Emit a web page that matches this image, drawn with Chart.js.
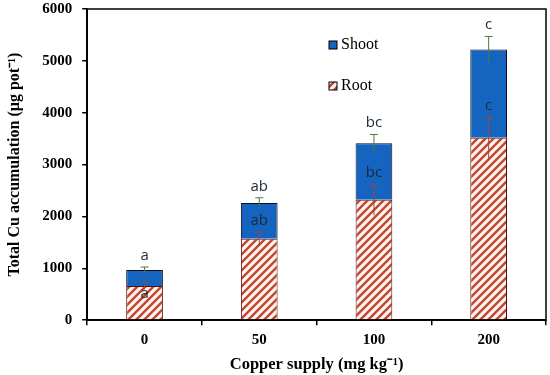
<!DOCTYPE html>
<html>
<head>
<meta charset="utf-8">
<script src="https://cdn.jsdelivr.net/npm/chart.js@4"></script>
<style>
  html, body { margin: 0; padding: 0; background: #fff; overflow: hidden; }
  #wrap { width: 550px; height: 375px; }
</style>
</head>
<body>
<div id="wrap"><canvas id="grafica" width="550" height="375"></canvas></div>
<script>
const categorias = ["0", "50", "100", "200"];
const raiz = [660, 1570, 2320, 3520];
const tallo = [310, 690, 1090, 1700];
const errRaiz = [60, 130, 300, 400];
const errTotal = [55, 100, 170, 250];
const letrasRaiz = ["a", "ab", "bc", "c"];
const letrasTotal = ["a", "ab", "bc", "c"];
const ticksY = [0, 1000, 2000, 3000, 4000, 5000, 6000];

const serif = "'Liberation Serif', 'Times New Roman', serif";
const sans = "'Open Sans', 'Liberation Sans', sans-serif";

// patron rayado para la raiz
function rayado() {
  const c = document.createElement("canvas");
  c.width = 8; c.height = 8;
  const g = c.getContext("2d");
  g.fillStyle = "#fff4f2";
  g.fillRect(0, 0, 8, 8);
  g.strokeStyle = "#c0472e";
  g.lineWidth = 2.4;
  g.beginPath();
  g.moveTo(-2, 10); g.lineTo(10, -2);
  g.moveTo(-2, 2); g.lineTo(2, -2);
  g.moveTo(6, 10); g.lineTo(10, 6);
  g.stroke();
  return g.createPattern(c, "repeat");
}
const patron = rayado();

const extras = {
  id: "extras",
  afterDatasetsDraw(chart) {
    const { ctx, chartArea: a, scales } = chart;
    const x = scales.x, y = scales.y;
    ctx.save();
    // marco
    ctx.strokeStyle = "#000";
    ctx.lineWidth = 1.5;
    ctx.strokeRect(a.left, a.top, a.right - a.left, a.bottom - a.top);

    const barra = (i, v, e, color) => {
      const cx = x.getPixelForValue(i);
      const yt = y.getPixelForValue(v + e), yb = y.getPixelForValue(v - e);
      ctx.strokeStyle = color;
      ctx.lineWidth = 1;
      ctx.beginPath();
      ctx.moveTo(cx, yt); ctx.lineTo(cx, yb);
      ctx.moveTo(cx - 4, yt); ctx.lineTo(cx + 4, yt);
      ctx.stroke();
      return yt;
    };
    ctx.font = "15px " + sans;
    ctx.textAlign = "center";
    ctx.textBaseline = "bottom";
    categorias.forEach((_, i) => {
      const total = raiz[i] + tallo[i];
      const yt1 = barra(i, raiz[i], errRaiz[i], "#a0473f");
      const yt2 = barra(i, total, errTotal[i], "#4f7a3a");
      const cx = x.getPixelForValue(i);
      ctx.fillStyle = "#1b2a3a";
      ctx.fillText(letrasTotal[i], cx, yt2 - 4);
      if (i === 0) {
        ctx.fillText(letrasRaiz[i], cx, y.getPixelForValue(raiz[i]) + 15);
      } else {
        ctx.fillText(letrasRaiz[i], cx, yt1 - 4);
      }
    });

    // leyenda
    const lx = 329, ly = 41;
    ctx.lineWidth = 1;
    ctx.fillStyle = "#1565c0";
    ctx.fillRect(lx, ly, 8, 8);
    ctx.strokeStyle = "#000";
    ctx.strokeRect(lx, ly, 8, 8);
    ctx.fillStyle = patron;
    ctx.fillRect(lx, ly + 41, 8, 8);
    ctx.strokeRect(lx, ly + 41, 8, 8);
    ctx.fillStyle = "#000";
    ctx.font = "16px " + serif;
    ctx.textAlign = "left";
    ctx.textBaseline = "middle";
    ctx.fillText("Shoot", lx + 12, ly + 4);
    ctx.fillText("Root", lx + 12, ly + 45);
    ctx.restore();
  }
};

new Chart(document.querySelector("#grafica"), {
  type: "bar",
  data: {
    labels: categorias,
    datasets: [
      {
        label: "Root",
        data: raiz,
        backgroundColor: patron,
        borderColor: "#5a1010",
        borderWidth: 1,
        barPercentage: 0.32,
        categoryPercentage: 1,
      },
      {
        label: "Shoot",
        data: tallo,
        backgroundColor: "#1565c0",
        borderColor: "#0a0a20",
        borderWidth: 1,
        barPercentage: 0.32,
        categoryPercentage: 1,
      },
    ],
  },
  plugins: [extras],
  options: {
    responsive: false,
    animation: false,
    layout: { padding: { top: 9, right: 4, left: 5, bottom: 0 } },
    plugins: {
      legend: { display: false },
      tooltip: { enabled: false },
    },
    scales: {
      x: {
        stacked: true,
        afterFit: (s) => { s.paddingLeft = 0; s.paddingRight = 0; },
        grid: { drawOnChartArea: false, tickLength: 5, color: "#000", lineWidth: 1.5 },
        border: { color: "#000", width: 1.5 },
        ticks: { color: "#000", font: { family: serif, size: 15, weight: "bold" }, padding: 6 },
        title: {
          display: true,
          text: "Copper supply (mg kg⁻¹)",
          color: "#000",
          font: { family: serif, size: 16.5, weight: "bold" },
          padding: { top: 0, bottom: 0 },
        },
      },
      y: {
        stacked: true,
        min: 0,
        max: 6000,
        afterBuildTicks: (s) => { s.ticks = ticksY.map((v) => ({ value: v })); },
        afterFit: (s) => { s.paddingTop = 0; s.paddingBottom = 0; },
        grid: { drawOnChartArea: false, tickLength: 5, color: "#000", lineWidth: 1.5 },
        border: { color: "#000", width: 1.5 },
        ticks: {
          color: "#000",
          font: { family: serif, size: 15, weight: "bold" },
          padding: 10,
          callback: (v) => String(v),
        },
        title: {
          display: true,
          text: "Total Cu accumulation (µg pot⁻¹)",
          color: "#000",
          font: { family: serif, size: 16, weight: "bold" },
          padding: { top: 0, bottom: 8 },
        },
      },
    },
  },
});
</script>
</body>
</html>
